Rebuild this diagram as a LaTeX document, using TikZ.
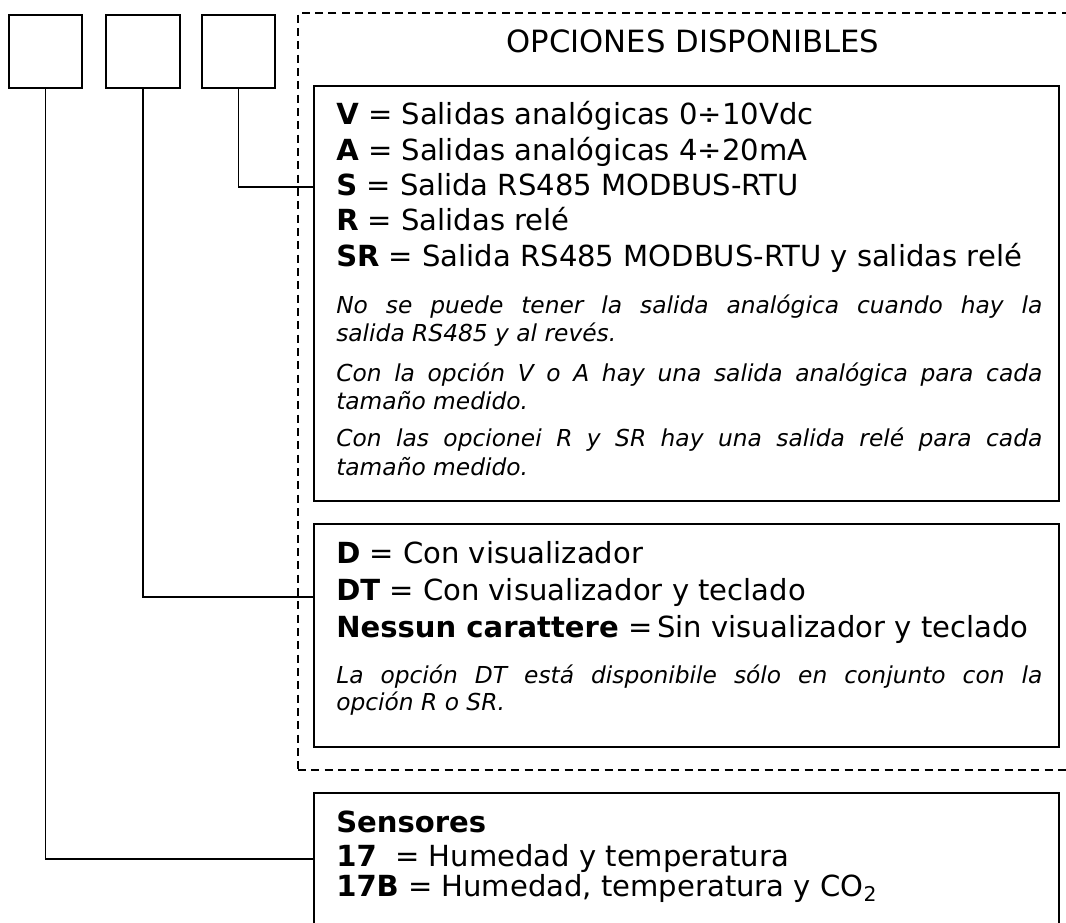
\documentclass[tikz,border=0pt]{standalone}
\usepackage{fontspec}
\setmainfont{DejaVu Sans}
\usetikzlibrary{fit}
\newcommand{\jline}[1]{\makebox[529.5pt][s]{#1}}
\begin{document}
\begin{tikzpicture}[x=0.75pt,y=-0.75pt,
  box/.style={draw, line width=1.5pt, inner sep=0pt},
  optbox/.style={draw, dash pattern=on 6pt off 4pt, line width=1.1pt, inner sep=0pt},
  conn/.style={line width=1.4pt},
  lbl/.style={anchor=base west, inner sep=0pt, font=\fontsize{21.8}{26}\selectfont},
  note/.style={anchor=base west, inner sep=0pt, font=\fontsize{17.5}{21}\selectfont\itshape},
  ttl/.style={anchor=base, inner sep=0pt, font=\fontsize{23}{27}\selectfont},
]
\useasboundingbox (0,0) rectangle (1066,922);
% code squares
\node[box, fit={(9,15)(82,88)}] (sq1) {};
\node[box, fit={(106,15)(180,88)}] (sq2) {};
\node[box, fit={(202,15)(275,88)}] (sq3) {};
% optional frame
\node[optbox, fit={(298,13)(1072,770)}] (opts) {};
\node[ttl] (title) at (693,52) {OPCIONES DISPONIBLES};
% boxes
\node[box, fit={(314,86)(1059,501)}] (box1) {};
\node[box, fit={(314,524)(1059,747)}] (box2) {};
\node[box, fit={(314,793)(1059,925)}] (box3) {};
% connector ends
\coordinate (c3) at (314,187);
\coordinate (c2) at (314,597);
\draw[conn] (sq3.south) |- (c3);
\draw[conn] (sq2.south) |- (c2);
\draw[conn] (sq1.south) |- (box3.west);
% box 1
\node[lbl] (v) at (336,124) {\textbf{V} = Salidas analógicas 0÷10Vdc};
\node[lbl] (a) at (336,160) {\textbf{A} = Salidas analógicas 4÷20mA};
\node[lbl] (s) at (336,195) {\textbf{S} = Salida RS485 MODBUS-RTU};
\node[lbl] (r) at (336,230) {\textbf{R} = Salidas relé};
\node[lbl] (sr) at (336,266) {\textbf{SR} = Salida RS485 MODBUS-RTU y salidas relé};
\node[note] (n1a) at (336,313) {\jline{No se puede tener la salida analógica cuando hay la}};
\node[note] (n1b) at (336,341) {salida RS485 y al revés.};
\node[note] (n2a) at (336,381) {\jline{Con la opción V o A hay una salida analógica para cada}};
\node[note] (n2b) at (336,409) {tamaño medido.};
\node[note] (n3a) at (336,446) {\jline{Con las opcionei R y SR hay una salida relé para cada}};
\node[note] (n3b) at (336,475) {tamaño medido.};
% box 2
\node[lbl] (d) at (336,563) {\textbf{D} = Con visualizador};
\node[lbl] (dt) at (336,600) {\textbf{DT} = Con visualizador y teclado};
\node[lbl] (ns) at (336,637) {\textbf{Nessun carattere} =\,Sin visualizador y teclado};
\node[note] (n4a) at (336,683) {\jline{La opción DT está disponibile sólo en conjunto con la}};
\node[note] (n4b) at (336,710) {opción R o SR.};
% box 3
\node[lbl] (sens) at (336,832) {\textbf{Sensores}};
\node[lbl] (s17) at (336,866) {\textbf{17}\ \ = Humedad y temperatura};
\node[lbl] (s17b) at (336,896) {\textbf{17B} = Humedad, temperatura y CO\textsubscript{2}};
\end{tikzpicture}
\end{document}
